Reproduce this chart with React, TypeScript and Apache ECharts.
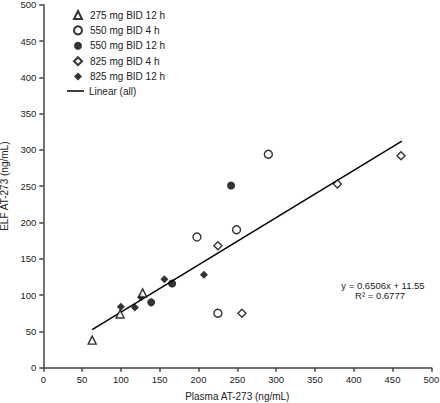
import React, { useEffect, useRef } from 'react';
import * as echarts from 'echarts';

const xTicks = [0, 50, 100, 150, 200, 250, 300, 350, 400, 450, 500];
const yTicks = [0, 50, 100, 150, 200, 250, 300, 350, 400, 450, 500];

const name275_12 = '275 mg BID 12 h';
const name550_4 = '550 mg BID 4 h';
const name550_12 = '550 mg BID 12 h';
const name825_4 = '825 mg BID 4 h';
const name825_12 = '825 mg BID 12 h';
const nameLinear = 'Linear (all)';

const d275_12 = [[63, 38], [99, 74], [128, 103]];
const d550_4 = [[198, 180], [249, 190], [290, 294], [225, 75]];
const d550_12 = [[139, 90], [166, 116], [242, 251]];
const d825_4 = [[225, 168], [256, 75], [379, 253], [461, 292]];
const d825_12 = [[100, 84], [118, 83], [126, 97], [156, 122], [207, 128]];

const fitSlope = 0.6506;
const fitIntercept = 11.55;
const fitR2 = 0.6777;
const fitXRange = [63, 462];

const FONT = '"Liberation Sans", Arial, sans-serif';

export default function App() {
  const ref = useRef<HTMLDivElement>(null);
  useEffect(() => {
    if (!ref.current) return;
    const chart = echarts.init(ref.current, undefined, { renderer: 'svg' });
    const openStyle = { color: '#ffffff', borderColor: '#000000', borderWidth: 1.4 };
    const filledStyle = { color: '#000000', borderColor: '#000000', borderWidth: 0 };
    const fitData = fitXRange.map((x) => [x, fitSlope * x + fitIntercept]);
    const axisCommon = {
      min: 0,
      max: 500,
      interval: 50,
      splitLine: { show: false },
      axisLine: { show: true, onZero: false, lineStyle: { color: '#444', width: 1.5 } },
      axisTick: { show: true, length: 4, lineStyle: { color: '#444', width: 1.5 } },
      nameTextStyle: { fontFamily: FONT, fontSize: 10, color: '#222' },
    };
    const legendText = { fontFamily: FONT, fontSize: 10, color: '#222' };
    chart.setOption({
      animation: false,
      textStyle: { fontFamily: FONT },
      grid: {
        left: 43.3,
        right: 8.7,
        top: 4.7,
        bottom: 35.3,
        containLabel: false,
        outerBoundsMode: 'none',
      },
      xAxis: {
        type: 'value',
        ...axisCommon,
        name: 'Plasma AT-273 (ng/mL)',
        nameLocation: 'middle',
        nameGap: 24,
        axisLabel: {
          margin: 7,
          fontFamily: FONT,
          fontSize: 9.5,
          color: '#222',
          formatter: (v: number) => (xTicks.includes(v) ? String(v) : ''),
        },
      },
      yAxis: {
        type: 'value',
        ...axisCommon,
        name: 'ELF AT-273 (ng/mL)',
        nameLocation: 'middle',
        nameGap: 30,
        axisLabel: {
          margin: 7,
          fontFamily: FONT,
          fontSize: 9.5,
          color: '#222',
          formatter: (v: number) => (yTicks.includes(v) ? String(v) : ''),
        },
      },
      legend: [
        {
          orient: 'vertical',
          left: 73,
          top: 10,
          itemWidth: 8,
          itemHeight: 8,
          itemGap: 5.4,
          padding: 0,
          textStyle: { ...legendText, padding: [0, 0, 0, 3] },
          data: [
            { name: name275_12, icon: 'triangle' },
            { name: name550_4, icon: 'circle' },
            { name: name550_12, icon: 'circle' },
            { name: name825_4, icon: 'diamond' },
            { name: name825_12, icon: 'diamond' },
          ],
        },
        {
          orient: 'vertical',
          left: 67,
          top: 86,
          itemWidth: 17,
          itemHeight: 1.5,
          padding: 0,
          textStyle: legendText,
          data: [{ name: nameLinear, icon: 'rect' }],
        },
      ],
      series: [
        {
          name: nameLinear,
          type: 'line',
          data: fitData,
          symbol: 'none',
          lineStyle: { color: '#000', width: 1.5 },
          itemStyle: { color: '#000' },
          z: 1,
        },
        { name: name275_12, type: 'scatter', symbol: 'triangle', symbolSize: 8, data: d275_12, itemStyle: openStyle, z: 3 },
        { name: name550_4, type: 'scatter', symbol: 'circle', symbolSize: 8, data: d550_4, itemStyle: openStyle, z: 3 },
        { name: name550_12, type: 'scatter', symbol: 'circle', symbolSize: 8, data: d550_12, itemStyle: filledStyle, z: 3 },
        { name: name825_4, type: 'scatter', symbol: 'diamond', symbolSize: 8, data: d825_4, itemStyle: openStyle, z: 3 },
        { name: name825_12, type: 'scatter', symbol: 'diamond', symbolSize: 8, data: d825_12, itemStyle: filledStyle, z: 2 },
      ],
      graphic: [
        {
          type: 'text',
          x: 383,
          y: 285,
          style: {
            text: `y = ${fitSlope}x + ${fitIntercept}`,
            fontFamily: FONT,
            fontSize: 9.5,
            fill: '#222',
            align: 'center',
            verticalAlign: 'middle',
          },
        },
        {
          type: 'text',
          x: 380,
          y: 295.5,
          style: {
            text: `R² = ${fitR2}`,
            fontFamily: FONT,
            fontSize: 9.5,
            fill: '#222',
            align: 'center',
            verticalAlign: 'middle',
          },
        },
      ],
    });
    return () => chart.dispose();
  }, []);
  return (
    <div
      ref={ref}
      style={{ position: 'fixed', left: 0, top: 0, width: 440, height: 403, background: '#fff' }}
    />
  );
}
